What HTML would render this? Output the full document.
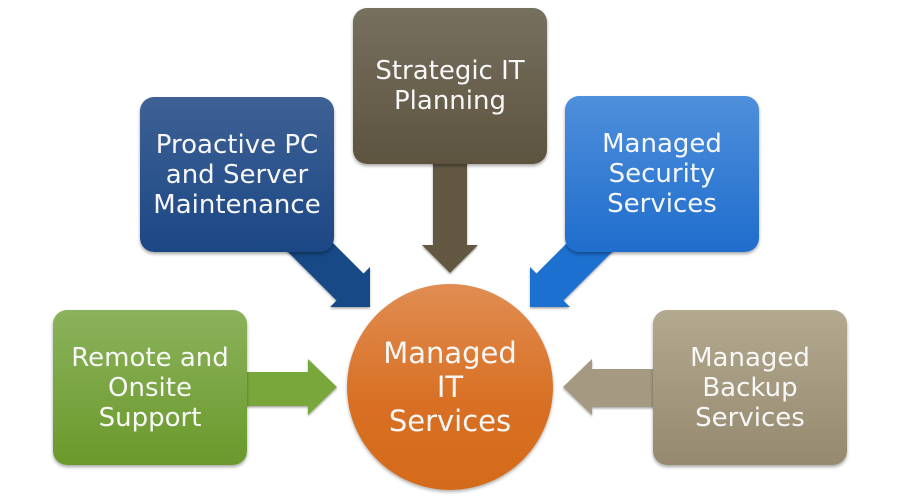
<!DOCTYPE html>
<html><head><meta charset="utf-8"><style>
html,body{margin:0;padding:0;background:#fff;}
#c{position:relative;width:900px;height:500px;overflow:hidden;background:#fff;}
svg{position:absolute;left:0;top:0;}
.b{position:absolute;width:194px;height:155px;border-radius:14px;display:flex;align-items:center;justify-content:center;text-align:center;color:#f7f7f7;font-family:"DejaVu Sans","Liberation Sans",sans-serif;font-size:26px;line-height:30px;box-shadow:0 2px 3px rgba(0,0,0,.35);}
#circ{position:absolute;left:347px;top:284px;width:206px;height:206px;border-radius:50%;background:linear-gradient(#e08d52,#d86f22 60%,#d46b1b);box-shadow:0 2px 3px rgba(0,0,0,.3);display:flex;align-items:center;justify-content:center;text-align:center;color:#f7f7f7;font-family:"DejaVu Sans","Liberation Sans",sans-serif;font-size:29px;line-height:34px;}
</style></head><body><div id="c">
<svg width="900" height="500" viewBox="0 0 900 500">
<defs><filter id="sh" x="-20%" y="-20%" width="140%" height="140%"><feDropShadow dx="0" dy="1.5" stdDeviation="1" flood-color="#000" flood-opacity="0.35"/></filter></defs>
<!-- top arrow -->
<polygon filter="url(#sh)" points="433,150 467,150 467,245 478,245 450,273 422,245 433,245" fill="#625843"/>
<!-- left diagonal -->
<polygon filter="url(#sh)" points="320,230 363.5,273.5 370,267 370,307 330,307 336.5,300.5 266,230" fill="#174a85"/>
<!-- right diagonal -->
<polygon filter="url(#sh)" points="580,230 536.5,273.5 530,267 530,307 570,307 563.5,300.5 634,230" fill="#1f6fcf"/>
<!-- green arrow -->
<polygon filter="url(#sh)" points="235,372 308,372 308,359 337,387 308,415 308,406 235,406" fill="#79a73b"/>
<!-- tan arrow -->
<polygon filter="url(#sh)" points="665,369 592,369 592,359 563,387 592,415 592,407 665,407" fill="#a59a81"/>
</svg>
<div class="b" style="left:353px;top:8px;height:156px;background:linear-gradient(#77705f,#5d533f);">Strategic IT<br>Planning</div>
<div class="b" style="left:140px;top:97px;background:linear-gradient(#3e6194,#1b4785);">Proactive PC<br>and Server<br>Maintenance</div>
<div class="b" style="left:565px;top:96px;height:156px;background:linear-gradient(#4f8fdb,#1f6dcd);">Managed<br>Security<br>Services</div>
<div class="b" style="left:53px;top:310px;background:linear-gradient(#8bb25c,#6b992b);">Remote and<br>Onsite<br>Support</div>
<div class="b" style="left:653px;top:310px;background:linear-gradient(#b3a98f,#958a6f);">Managed<br>Backup<br>Services</div>
<div id="circ">Managed<br>IT<br>Services</div>
</div></body></html>
